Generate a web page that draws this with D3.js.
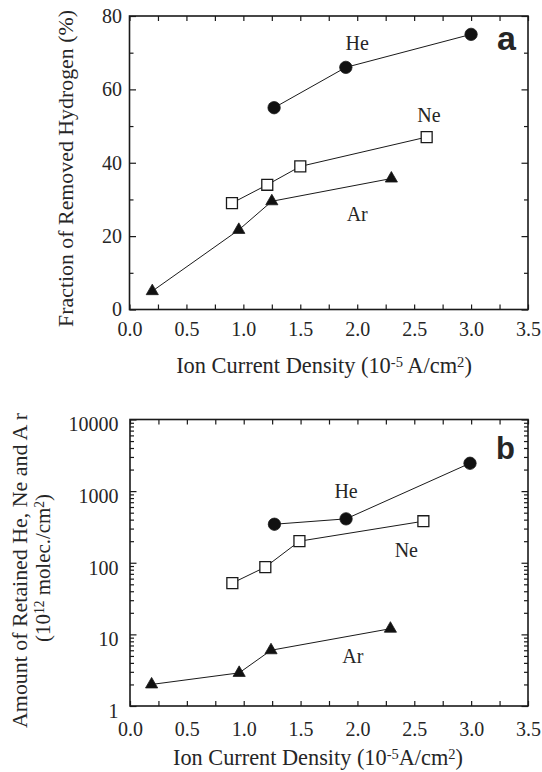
<!DOCTYPE html>
<html><head><meta charset="utf-8">
<script src="https://cdn.jsdelivr.net/npm/d3@7"></script>
<style>
body{margin:0;background:#fff;}
svg{display:block;}
text{font-family:"Liberation Serif","Times New Roman",serif;fill:#262626;}
</style></head>
<body>
<svg id="c" width="542" height="772"></svg>
<script>
// ---- Data: panel a (fraction of removed hydrogen, %) ----
const xTickValues = [0, 0.5, 1.0, 1.5, 2.0, 2.5, 3.0, 3.5];
const xMinorValues = [0.25, 0.75, 1.25, 1.75, 2.25, 2.75, 3.25];
const yTickValuesA = [0, 20, 40, 60, 80];
const yMinorValuesA = [10, 30, 50, 70];
const heXA = [1.27, 1.90, 3.00];
const heYA = [55, 66, 75];
const neXA = [0.90, 1.21, 1.50, 2.61];
const neYA = [29, 34, 39, 47];
const arXA = [0.20, 0.96, 1.25, 2.30];
const arYA = [5, 21.7, 29.5, 35.7];
// ---- Data: panel b (retained amount, 10^12 molec./cm^2) ----
const yTickValuesB = [1, 10, 100, 1000, 10000];
const heXB = [1.27, 1.90, 2.99];
const heYB = [345, 410, 2450];
const neXB = [0.90, 1.19, 1.49, 2.58];
const neYB = [52, 87, 200, 380];
const arXB = [0.19, 0.96, 1.24, 2.29];
const arYB = [2.0, 2.9, 6.0, 12];
// series label anchors (data coords)
const labelsA = [{t:"He", x:2.0, y:70.7},{t:"Ne", x:2.63, y:51.2},{t:"Ar", x:2.0, y:24.2}];
const labelsB = [{t:"He", x:1.90, y:789},{t:"Ne", x:2.43, y:118.6},{t:"Ar", x:1.96, y:3.94}];

const svg = d3.select("#c");
const INK = "#1a1a1a";

function zip(xs, ys){ return xs.map((x,i)=>({x, y:ys[i]})); }
function fit(sel, target){
  const w = sel.node().getComputedTextLength();
  const fs = parseFloat(sel.attr("font-size"));
  sel.attr("font-size", (fs*target/w).toFixed(2));
}
function supText(sel, parts){
  let up = false;
  parts.forEach(([s,sup])=>{
    const ts = sel.append("tspan").text(s);
    if(sup && !up){ ts.attr("font-size","0.65em").attr("dy","-0.42em"); up = true; }
    else if(!sup && up){ ts.attr("dy","0.273em"); up = false; }
    else if(sup){ ts.attr("font-size","0.65em"); }
  });
}

function drawPanel(opt){
  const {L,R,T,B,y,yTicks,yMinor,yFormat,series,labels,letter,letterPos,letterSize,xPad,yPad,yShift,xTitle,yTitle} = opt;
  const x = d3.scaleLinear().domain([0,3.5]).range([L,R]);
  y.range([B,T]);
  const g = svg.append("g");
  const tick = 5;
  g.append("g").attr("transform",`translate(0,${B})`)
    .call(d3.axisBottom(x).tickValues(xTickValues).tickSize(-tick).tickPadding(xPad).tickFormat(d3.format(".1f")));
  g.append("g").attr("transform",`translate(0,${B})`)
    .call(d3.axisBottom(x).tickValues(xMinorValues).tickSize(-tick).tickFormat(""));
  g.append("g").attr("transform",`translate(0,${T})`)
    .call(d3.axisTop(x).tickValues(xTickValues.concat(xMinorValues)).tickSize(-tick).tickFormat(""));
  const la = g.append("g").attr("transform",`translate(${L},0)`)
    .call(d3.axisLeft(y).tickValues(yTicks).tickSize(-6.5).tickPadding(yPad).tickFormat(yFormat));
  la.selectAll(".tick text").attr("y", yShift);
  g.append("g").attr("transform",`translate(${L},0)`)
    .call(d3.axisLeft(y).tickValues(yMinor).tickSize(-4).tickFormat(""));
  g.append("g").attr("transform",`translate(${R},0)`)
    .call(d3.axisRight(y).tickValues(yTicks).tickSize(-6.5).tickFormat(""));
  g.append("g").attr("transform",`translate(${R},0)`)
    .call(d3.axisRight(y).tickValues(yMinor).tickSize(-4).tickFormat(""));
  g.selectAll(".domain").remove();
  g.selectAll(".tick line").attr("stroke",INK).attr("stroke-width",1.2);
  g.selectAll(".tick text").attr("font-size",20).attr("fill","#262626")
    .style("font-family",'"Liberation Serif",serif');
  g.append("rect").attr("x",L).attr("y",T).attr("width",R-L).attr("height",B-T)
    .attr("fill","none").attr("stroke",INK).attr("stroke-width",1.6);

  const line = d3.line().x(d=>x(d.x)).y(d=>y(d.y));
  series.forEach(s=>{
    const pts = zip(s.xs, s.ys);
    g.append("path").datum(pts).attr("d",line).attr("fill","none").attr("stroke",INK).attr("stroke-width",1);
    const sym = d3.symbol().type(s.type).size(s.size);
    g.selectAll(null).data(pts).enter().append("path")
      .attr("d",sym).attr("transform",d=>`translate(${x(d.x)},${y(d.y)})`)
      .attr("fill",s.fill).attr("stroke",INK).attr("stroke-width",s.fill==="#fff"?1.3:0.8);
  });
  labels.forEach(l=>{
    g.append("text").attr("x",x(l.x)).attr("y",y(l.y)).attr("text-anchor","middle")
      .attr("font-size",20).text(l.t);
  });
  g.append("text").attr("x",letterPos[0]).attr("y",letterPos[1]).attr("text-anchor","middle")
    .attr("font-size",letterSize).attr("font-weight","bold").style("font-family",'"Liberation Sans",Arial,sans-serif')
    .attr("fill","#111").text(letter);
  xTitle(g);
  yTitle(g);
}

const seriesA = [
  {xs:heXA, ys:heYA, type:d3.symbolCircle, size:120, fill:"#111"},
  {xs:neXA, ys:neYA, type:d3.symbolSquare, size:120, fill:"#fff"},
  {xs:arXA, ys:arYA, type:d3.symbolTriangle, size:64, fill:"#111"}
];
const seriesB = [
  {xs:heXB, ys:heYB, type:d3.symbolCircle, size:120, fill:"#111"},
  {xs:neXB, ys:neYB, type:d3.symbolSquare, size:120, fill:"#fff"},
  {xs:arXB, ys:arYB, type:d3.symbolTriangle, size:64, fill:"#111"}
];

drawPanel({
  L:129.5, R:528, T:16, B:309.5,
  y:d3.scaleLinear().domain([0,80]),
  yTicks:yTickValuesA, yMinor:yMinorValuesA, yFormat:d3.format("d"),
  xPad:12.3, yPad:7.5, yShift:0,
  series:seriesA, labels:labelsA, letter:"a", letterPos:[506.5,49.5], letterSize:34,
  xTitle:g=>{
    const t = g.append("text").attr("x",324).attr("y",373).attr("text-anchor","middle").attr("font-size",20);
    supText(t, [["Ion Current Density (10",false],["-5",true],[" A/cm",false],["2",true],[")",false]]);
    fit(t, 296);
  },
  yTitle:g=>{
    const t = g.append("text").attr("transform","translate(73,168.5) rotate(-90)").attr("text-anchor","middle")
      .attr("font-size",20).text("Fraction of Removed Hydrogen (%)");
    fit(t, 317);
  }
});

const logY = d3.scaleLog().domain([1,10000]);
const minorB = [];
[1,10,100,1000].forEach(d=>{ for(let k=2;k<=9;k++) minorB.push(d*k); });
drawPanel({
  L:130, R:528, T:419.5, B:706,
  y:logY,
  yTicks:yTickValuesB, yMinor:minorB, yFormat:d3.format("d"),
  xPad:15.8, yPad:11.5, yShift:5,
  series:seriesB, labels:labelsB, letter:"b", letterPos:[505.5,458.5], letterSize:31,
  xTitle:g=>{
    const t = g.append("text").attr("x",318).attr("y",765).attr("text-anchor","middle").attr("font-size",20);
    supText(t, [["Ion Current Density (10",false],["-5",true],["A/cm",false],["2",true],[")",false]]);
    fit(t, 290);
  },
  yTitle:g=>{
    const t1 = g.append("text").attr("transform","translate(26.5,570.5) rotate(-90)").attr("text-anchor","middle")
      .attr("font-size",20).text("Amount of Retained He, Ne and A r");
    fit(t1, 315);
    const t2 = g.append("text").attr("transform","translate(49.5,568) rotate(-90)").attr("text-anchor","middle").attr("font-size",20);
    supText(t2, [["(10",false],["12",true],[" molec./cm",false],["2",true],[")",false]]);
    fit(t2, 148);
  }
});
</script>
</body></html>
